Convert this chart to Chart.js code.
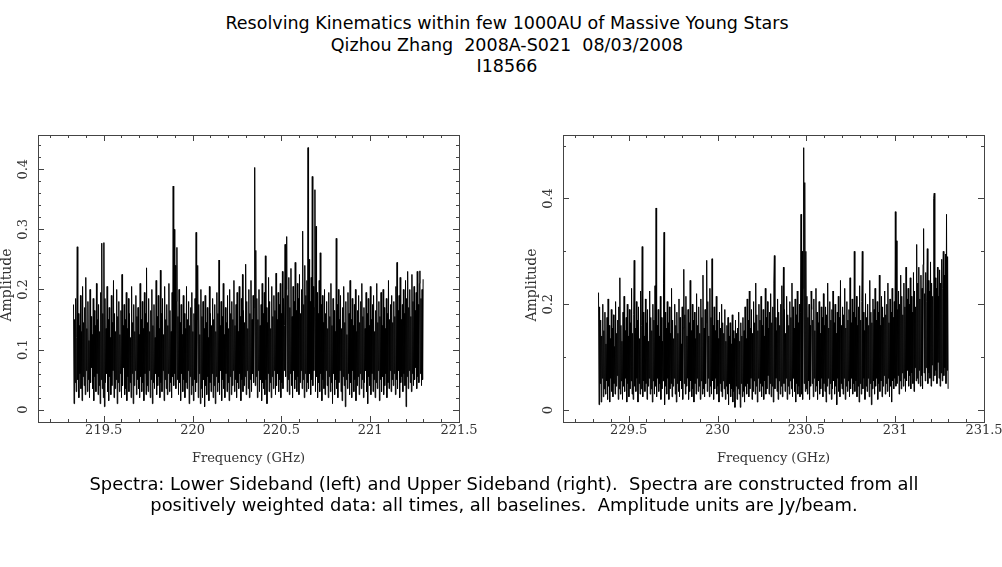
<!DOCTYPE html>
<html>
<head>
<meta charset="utf-8">
<script src="https://cdn.jsdelivr.net/npm/chart.js@4.4.1/dist/chart.umd.min.js"></script>
<style>
  body { margin: 0; background: #fff; width: 1002px; height: 567px; overflow: hidden; position: relative; font-family: "DejaVu Sans", sans-serif; color: #000; }
  .txt { position: absolute; width: 1002px; text-align: center; white-space: pre; }
  canvas { position: absolute; }
</style>
</head>
<body>
<div class="txt" style="left:6px;top:13px;font-size:17.5px;line-height:21.5px">Resolving Kinematics within few 1000AU of Massive Young Stars
Qizhou Zhang  2008A-S021  08/03/2008
I18566</div>
<canvas id="lsb" width="480" height="350" style="left:0;top:125px"></canvas>
<canvas id="usb" width="480" height="350" style="left:525px;top:125px"></canvas>
<div class="txt" style="left:3px;top:473px;font-size:17.9px;line-height:21px">Spectra: Lower Sideband (left) and Upper Sideband (right).  Spectra are constructed from all
positively weighted data: all times, all baselines.  Amplitude units are Jy/beam.</div>
<script>
// channel grid (GHz)
const CHAN_STEP = 0.003;
const LSB_START = 219.33;
const USB_START = 229.33;

// amplitudes (Jy/beam)
const LSB_AMP = [
  0.175, 0.010, 0.150, 0.045, 0.185, 0.030, 0.120, 0.271, 0.050, 0.160, 0.020, 0.140, 0.060, 0.190, 0.035, 0.130, 0.015, 0.205, 0.055, 0.145,
  0.040, 0.170, 0.025, 0.220, 0.065, 0.135, 0.030, 0.180, 0.050, 0.115, 0.020, 0.200, 0.045, 0.155, 0.070, 0.125, 0.035, 0.185, 0.015, 0.165,
  0.055, 0.140, 0.030, 0.210, 0.060, 0.150, 0.025, 0.175, 0.040, 0.130, 0.010, 0.195, 0.050, 0.277, 0.035, 0.160, 0.020, 0.278, 0.005, 0.185,
  0.045, 0.135, 0.060, 0.205, 0.030, 0.150, 0.015, 0.170, 0.055, 0.120, 0.025, 0.190, 0.040, 0.145, 0.065, 0.215, 0.020, 0.160, 0.035, 0.130,
  0.050, 0.200, 0.010, 0.155, 0.045, 0.180, 0.030, 0.125, 0.060, 0.165, 0.020, 0.225, 0.040, 0.140, 0.070, 0.175, 0.025, 0.150, 0.035, 0.195,
  0.015, 0.135, 0.055, 0.185, 0.030, 0.160, 0.045, 0.120, 0.020, 0.205, 0.060, 0.145, 0.010, 0.175, 0.040, 0.130, 0.065, 0.190, 0.025, 0.155,
  0.050, 0.170, 0.035, 0.125, 0.020, 0.210, 0.055, 0.150, 0.030, 0.180, 0.045, 0.135, 0.015, 0.195, 0.060, 0.160, 0.025, 0.236, 0.040, 0.145,
  0.030, 0.185, 0.065, 0.130, 0.020, 0.165, 0.050, 0.200, 0.010, 0.140, 0.045, 0.175, 0.035, 0.120, 0.060, 0.215, 0.025, 0.155, 0.040, 0.190,
  0.055, 0.135, 0.020, 0.232, 0.045, 0.160, 0.030, 0.185, 0.065, 0.125, 0.015, 0.205, 0.050, 0.150, 0.035, 0.175, 0.025, 0.140, 0.060, 0.210,
  0.030, 0.165, 0.045, 0.130, 0.020, 0.195, 0.055, 0.372, 0.040, 0.300, 0.060, 0.240, 0.035, 0.180, 0.270, 0.050, 0.155, 0.025, 0.200, 0.045,
  0.145, 0.015, 0.175, 0.060, 0.125, 0.030, 0.190, 0.050, 0.160, 0.020, 0.135, 0.045, 0.205, 0.035, 0.150, 0.065, 0.180, 0.010, 0.140, 0.055,
  0.170, 0.025, 0.195, 0.040, 0.130, 0.015, 0.160, 0.050, 0.185, 0.030, 0.295, 0.045, 0.150, 0.240, 0.020, 0.175, 0.060, 0.125, 0.010, 0.200,
  0.035, 0.155, 0.020, 0.180, 0.050, 0.135, 0.005, 0.190, 0.040, 0.145, 0.025, 0.170, 0.055, 0.120, 0.015, 0.205, 0.045, 0.160, 0.030, 0.140,
  0.060, 0.185, 0.020, 0.150, 0.040, 0.175, 0.010, 0.130, 0.055, 0.195, 0.030, 0.160, 0.045, 0.249, 0.025, 0.140, 0.065, 0.180, 0.015, 0.155,
  0.050, 0.210, 0.035, 0.125, 0.020, 0.170, 0.060, 0.145, 0.030, 0.190, 0.045, 0.135, 0.015, 0.200, 0.055, 0.160, 0.025, 0.180, 0.040, 0.150,
  0.065, 0.215, 0.030, 0.140, 0.050, 0.175, 0.020, 0.195, 0.045, 0.130, 0.035, 0.205, 0.060, 0.155, 0.015, 0.185, 0.050, 0.225, 0.030, 0.165,
  0.040, 0.145, 0.055, 0.242, 0.025, 0.180, 0.065, 0.135, 0.035, 0.200, 0.020, 0.160, 0.050, 0.215, 0.030, 0.150, 0.060, 0.190, 0.045, 0.170,
  0.403, 0.040, 0.265, 0.055, 0.185, 0.020, 0.150, 0.065, 0.200, 0.030, 0.140, 0.050, 0.175, 0.015, 0.210, 0.045, 0.160, 0.035, 0.195, 0.025,
  0.256, 0.050, 0.170, 0.010, 0.145, 0.060, 0.220, 0.030, 0.180, 0.045, 0.135, 0.020, 0.205, 0.055, 0.155, 0.035, 0.190, 0.065, 0.165, 0.025,
  0.227, 0.040, 0.150, 0.060, 0.195, 0.030, 0.175, 0.050, 0.210, 0.020, 0.160, 0.045, 0.230, 0.035, 0.185, 0.065, 0.140, 0.275, 0.055, 0.200,
  0.288, 0.030, 0.190, 0.050, 0.220, 0.025, 0.170, 0.060, 0.235, 0.040, 0.155, 0.020, 0.205, 0.065, 0.180, 0.035, 0.245, 0.050, 0.165, 0.030,
  0.210, 0.055, 0.185, 0.025, 0.225, 0.045, 0.160, 0.065, 0.200, 0.035, 0.297, 0.050, 0.175, 0.020, 0.240, 0.060, 0.190, 0.030, 0.215, 0.045,
  0.436, 0.035, 0.250, 0.060, 0.180, 0.025, 0.220, 0.050, 0.388, 0.040, 0.205, 0.065, 0.170, 0.366, 0.030, 0.305, 0.055, 0.195, 0.020, 0.160,
  0.045, 0.215, 0.030, 0.261, 0.060, 0.175, 0.015, 0.190, 0.050, 0.145, 0.035, 0.200, 0.025, 0.160, 0.065, 0.180, 0.040, 0.135, 0.020, 0.195,
  0.055, 0.155, 0.030, 0.210, 0.045, 0.140, 0.010, 0.185, 0.060, 0.165, 0.025, 0.130, 0.050, 0.285, 0.035, 0.175, 0.020, 0.200, 0.045, 0.150,
  0.065, 0.190, 0.030, 0.135, 0.015, 0.170, 0.055, 0.205, 0.040, 0.145, 0.005, 0.180, 0.050, 0.125, 0.035, 0.195, 0.060, 0.160, 0.025, 0.215,
  0.045, 0.150, 0.020, 0.185, 0.065, 0.140, 0.030, 0.175, 0.050, 0.200, 0.015, 0.130, 0.040, 0.165, 0.055, 0.190, 0.025, 0.145, 0.060, 0.180,
  0.035, 0.210, 0.050, 0.155, 0.020, 0.170, 0.045, 0.135, 0.065, 0.195, 0.030, 0.160, 0.010, 0.185, 0.055, 0.140, 0.040, 0.205, 0.025, 0.150,
  0.060, 0.175, 0.030, 0.190, 0.050, 0.130, 0.020, 0.165, 0.045, 0.210, 0.035, 0.145, 0.065, 0.180, 0.015, 0.155, 0.050, 0.195, 0.030, 0.140,
  0.055, 0.200, 0.025, 0.170, 0.040, 0.135, 0.060, 0.185, 0.020, 0.160, 0.045, 0.215, 0.035, 0.150, 0.065, 0.175, 0.030, 0.190, 0.050, 0.145,
  0.040, 0.180, 0.060, 0.155, 0.025, 0.205, 0.050, 0.245, 0.035, 0.165, 0.065, 0.190, 0.020, 0.220, 0.045, 0.150, 0.055, 0.175, 0.030, 0.200,
  0.060, 0.160, 0.040, 0.215, 0.005, 0.185, 0.055, 0.230, 0.035, 0.170, 0.065, 0.200, 0.045, 0.155, 0.030, 0.225, 0.060, 0.180, 0.040, 0.205,
  0.050, 0.165, 0.070, 0.195, 0.035, 0.230, 0.055, 0.175, 0.045, 0.210, 0.231, 0.060, 0.185, 0.040, 0.200, 0.050, 0.217
];

const USB_AMP = [
  0.222, 0.010, 0.195, 0.050, 0.170, 0.015, 0.140, 0.060, 0.200, 0.025, 0.150, 0.040, 0.185, 0.030, 0.125, 0.055, 0.175, 0.020, 0.210, 0.045,
  0.160, 0.015, 0.135, 0.060, 0.190, 0.035, 0.155, 0.025, 0.180, 0.050, 0.120, 0.030, 0.205, 0.045, 0.145, 0.065, 0.170, 0.020, 0.195, 0.040,
  0.250, 0.030, 0.160, 0.055, 0.130, 0.020, 0.185, 0.045, 0.215, 0.035, 0.150, 0.060, 0.175, 0.015, 0.200, 0.050, 0.140, 0.025, 0.190, 0.040,
  0.165, 0.055, 0.230, 0.030, 0.145, 0.020, 0.180, 0.283, 0.045, 0.155, 0.035, 0.205, 0.060, 0.170, 0.015, 0.195, 0.050, 0.135, 0.030, 0.225,
  0.040, 0.160, 0.309, 0.025, 0.185, 0.055, 0.140, 0.035, 0.210, 0.050, 0.165, 0.020, 0.190, 0.045, 0.130, 0.060, 0.225, 0.030, 0.175, 0.040,
  0.150, 0.015, 0.200, 0.055, 0.170, 0.030, 0.235, 0.045, 0.382, 0.025, 0.160, 0.060, 0.190, 0.035, 0.140, 0.050, 0.215, 0.020, 0.175, 0.040,
  0.130, 0.055, 0.240, 0.336, 0.010, 0.185, 0.045, 0.155, 0.030, 0.205, 0.060, 0.165, 0.020, 0.195, 0.040, 0.145, 0.050, 0.230, 0.025, 0.170,
  0.045, 0.135, 0.060, 0.200, 0.030, 0.160, 0.015, 0.185, 0.050, 0.145, 0.035, 0.210, 0.025, 0.175, 0.055, 0.125, 0.040, 0.195, 0.020, 0.155,
  0.266, 0.050, 0.180, 0.030, 0.215, 0.045, 0.140, 0.060, 0.190, 0.020, 0.165, 0.035, 0.245, 0.055, 0.150, 0.025, 0.200, 0.040, 0.170, 0.015,
  0.185, 0.050, 0.135, 0.030, 0.220, 0.060, 0.160, 0.035, 0.195, 0.045, 0.145, 0.020, 0.210, 0.055, 0.175, 0.030, 0.255, 0.040, 0.155, 0.025,
  0.190, 0.050, 0.165, 0.283, 0.035, 0.205, 0.060, 0.140, 0.025, 0.230, 0.045, 0.175, 0.030, 0.286, 0.055, 0.160, 0.020, 0.195, 0.040, 0.150,
  0.060, 0.215, 0.030, 0.170, 0.045, 0.135, 0.015, 0.185, 0.050, 0.155, 0.035, 0.200, 0.025, 0.165, 0.055, 0.145, 0.040, 0.190, 0.020, 0.130,
  0.045, 0.160, 0.030, 0.175, 0.010, 0.140, 0.050, 0.165, 0.025, 0.125, 0.040, 0.180, 0.015, 0.150, 0.035, 0.135, 0.005, 0.170, 0.045, 0.145,
  0.020, 0.155, 0.040, 0.185, 0.030, 0.130, 0.005, 0.165, 0.050, 0.140, 0.025, 0.175, 0.035, 0.150, 0.015, 0.195, 0.045, 0.135, 0.030, 0.210,
  0.050, 0.170, 0.025, 0.225, 0.040, 0.155, 0.060, 0.190, 0.020, 0.145, 0.035, 0.205, 0.055, 0.165, 0.030, 0.240, 0.045, 0.180, 0.015, 0.150,
  0.060, 0.200, 0.035, 0.170, 0.050, 0.215, 0.025, 0.160, 0.045, 0.190, 0.020, 0.140, 0.055, 0.230, 0.030, 0.175, 0.040, 0.205, 0.065, 0.155,
  0.030, 0.185, 0.050, 0.220, 0.025, 0.165, 0.045, 0.195, 0.015, 0.240, 0.292, 0.040, 0.175, 0.060, 0.150, 0.035, 0.210, 0.020, 0.185, 0.055,
  0.160, 0.030, 0.200, 0.045, 0.235, 0.025, 0.170, 0.270, 0.050, 0.190, 0.035, 0.145, 0.060, 0.215, 0.020, 0.180, 0.045, 0.160, 0.030, 0.205,
  0.055, 0.175, 0.040, 0.240, 0.025, 0.195, 0.060, 0.155, 0.035, 0.210, 0.015, 0.180, 0.050, 0.225, 0.030, 0.165, 0.045, 0.200, 0.025, 0.185,
  0.370, 0.030, 0.300, 0.020, 0.230, 0.496, 0.050, 0.430, 0.035, 0.300, 0.040, 0.215, 0.030, 0.175, 0.055, 0.200, 0.020, 0.160, 0.045, 0.225,
  0.190, 0.050, 0.170, 0.025, 0.210, 0.060, 0.150, 0.035, 0.230, 0.045, 0.185, 0.020, 0.165, 0.055, 0.205, 0.030, 0.145, 0.040, 0.195, 0.060,
  0.175, 0.025, 0.220, 0.050, 0.160, 0.035, 0.195, 0.015, 0.180, 0.045, 0.240, 0.060, 0.155, 0.030, 0.205, 0.050, 0.170, 0.020, 0.190, 0.040,
  0.225, 0.055, 0.165, 0.030, 0.200, 0.045, 0.145, 0.010, 0.185, 0.060, 0.215, 0.035, 0.175, 0.025, 0.245, 0.050, 0.160, 0.040, 0.195, 0.030,
  0.180, 0.060, 0.230, 0.020, 0.155, 0.045, 0.205, 0.035, 0.170, 0.055, 0.190, 0.025, 0.250, 0.040, 0.165, 0.060, 0.210, 0.030, 0.185, 0.050,
  0.300, 0.035, 0.175, 0.055, 0.215, 0.025, 0.160, 0.045, 0.195, 0.015, 0.235, 0.050, 0.170, 0.030, 0.205, 0.300, 0.040, 0.185, 0.060, 0.150,
  0.020, 0.220, 0.045, 0.175, 0.035, 0.200, 0.060, 0.160, 0.025, 0.245, 0.050, 0.185, 0.010, 0.165, 0.040, 0.210, 0.055, 0.190, 0.030, 0.230,
  0.045, 0.170, 0.060, 0.205, 0.020, 0.185, 0.050, 0.255, 0.035, 0.160, 0.055, 0.215, 0.025, 0.195, 0.045, 0.175, 0.065, 0.225, 0.030, 0.180,
  0.050, 0.200, 0.035, 0.240, 0.060, 0.165, 0.025, 0.210, 0.045, 0.185, 0.015, 0.230, 0.055, 0.175, 0.040, 0.205, 0.060, 0.375, 0.045, 0.320,
  0.050, 0.190, 0.065, 0.225, 0.030, 0.200, 0.055, 0.255, 0.040, 0.215, 0.070, 0.180, 0.045, 0.240, 0.060, 0.195, 0.035, 0.270, 0.055, 0.210,
  0.075, 0.230, 0.045, 0.200, 0.065, 0.250, 0.040, 0.215, 0.070, 0.185, 0.050, 0.260, 0.035, 0.225, 0.080, 0.195, 0.055, 0.313, 0.060, 0.240,
  0.050, 0.270, 0.075, 0.210, 0.045, 0.255, 0.065, 0.230, 0.040, 0.275, 0.343, 0.070, 0.220, 0.055, 0.260, 0.080, 0.205, 0.305, 0.050, 0.245,
  0.070, 0.225, 0.060, 0.280, 0.045, 0.240, 0.085, 0.215, 0.055, 0.400, 0.410, 0.065, 0.250, 0.075, 0.230, 0.050, 0.270, 0.090, 0.215, 0.060,
  0.265, 0.045, 0.240, 0.070, 0.285, 0.055, 0.230, 0.300, 0.065, 0.255, 0.080, 0.295, 0.050, 0.370, 0.075, 0.290, 0.040
];

// labelled axis ticks
const LSB_X_TICKS = [219.5, 220, 220.5, 221, 221.5];
const USB_X_TICKS = [229.5, 230, 230.5, 231, 231.5];
const LSB_Y_TICKS = [0, 0.1, 0.2, 0.3, 0.4];
const USB_Y_TICKS = [0, 0.2, 0.4];

const toPoints = (start, amps) => amps.map((v, i) => ({ x: start + i * CHAN_STEP, y: v }));

// pgplot-style frame: inward ticks on all four sides, serif labels
const frame = {
  id: "frame",
  afterDraw(chart, args, o) {
    const { ctx, chartArea: a, scales: { x, y } } = chart;
    const near = (list, v) => list.some((m) => Math.abs(m - v) < 1e-6);
    ctx.save();
    ctx.strokeStyle = "#444";
    ctx.lineWidth = 1;
    ctx.strokeRect(Math.round(a.left) + 0.5, Math.round(a.top) + 0.5, Math.round(a.right - a.left), Math.round(a.bottom - a.top));

    ctx.beginPath();
    for (let k = 0; ; k++) {
      const v = +(o.xFirst + k * o.xMinor).toFixed(4);
      if (v > x.max + 1e-9) break;
      const px = Math.round(x.getPixelForValue(v)) + 0.5;
      const len = near(o.xTicks, v) ? 6 : 3;
      ctx.moveTo(px, a.bottom); ctx.lineTo(px, a.bottom - len);
      ctx.moveTo(px, a.top); ctx.lineTo(px, a.top + len);
    }
    for (let k = 0; ; k++) {
      const v = +(k * o.yMinor).toFixed(4);
      if (v > y.max) break;
      const py = Math.round(y.getPixelForValue(v)) + 0.5;
      const len = near(o.yTicks, v) ? 6 : 3;
      ctx.moveTo(a.left, py); ctx.lineTo(a.left + len, py);
      ctx.moveTo(a.right, py); ctx.lineTo(a.right - len, py);
    }
    ctx.stroke();

    ctx.fillStyle = "#333";
    ctx.font = '13px "DejaVu Serif"';
    ctx.textAlign = "center";
    ctx.textBaseline = "middle";
    o.xTicks.forEach((v) => ctx.fillText(String(v), x.getPixelForValue(v), a.bottom + 9));
    ctx.fillText("Frequency (GHz)", (a.left + a.right) / 2, a.bottom + 37);
    o.yTicks.forEach((v) => {
      ctx.save();
      ctx.translate(a.left - 14, y.getPixelForValue(v));
      ctx.rotate(-Math.PI / 2);
      ctx.fillText(String(v), 0, 0);
      ctx.restore();
    });
    ctx.save();
    ctx.translate(a.left - 31, a.top + 150);
    ctx.rotate(-Math.PI / 2);
    ctx.font = '14px "DejaVu Serif"';
    ctx.fillText("Amplitude", 0, 0);
    ctx.restore();
    ctx.restore();
  },
};

function spectrum(id, start, amps, xMin, xMax, yMin, yMax, frameOpts) {
  return new Chart(document.getElementById(id), {
    type: "line",
    data: {
      datasets: [{
        data: toPoints(start, amps),
        borderColor: "#000",
        borderWidth: 1,
        pointRadius: 0,
        tension: 0,
      }],
    },
    options: {
      responsive: false,
      animation: false,
      devicePixelRatio: 1,
      layout: { padding: { left: 38, top: 10, right: 21, bottom: 53 } },
      scales: {
        x: { type: "linear", display: false, min: xMin, max: xMax },
        y: { type: "linear", display: false, min: yMin, max: yMax },
      },
      plugins: { legend: { display: false }, tooltip: { enabled: false }, frame: frameOpts },
    },
    plugins: [frame],
  });
}

spectrum("lsb", LSB_START, LSB_AMP, 219.13, 221.5, -0.0205, 0.457,
  { xTicks: LSB_X_TICKS, xFirst: 219.2, xMinor: 0.1, yTicks: LSB_Y_TICKS, yMinor: 0.02 });
spectrum("usb", USB_START, USB_AMP, 229.13, 231.5, -0.0227, 0.52,
  { xTicks: USB_X_TICKS, xFirst: 229.2, xMinor: 0.1, yTicks: USB_Y_TICKS, yMinor: 0.1 });
</script>
</body>
</html>
